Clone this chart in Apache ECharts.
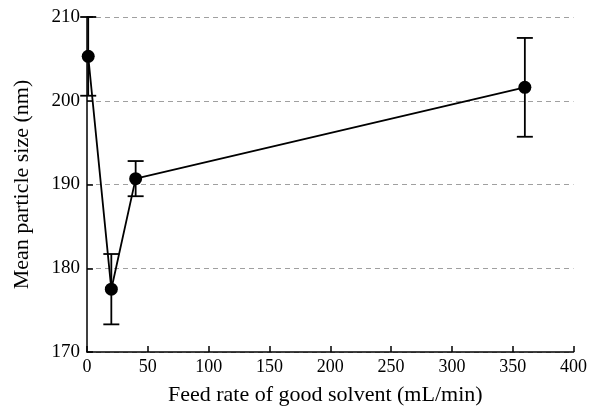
<!DOCTYPE html>
<html>
<head>
<meta charset="utf-8">
<script src="https://cdn.jsdelivr.net/npm/echarts@6/dist/echarts.min.js"></script>
<style>html,body{margin:0;padding:0;background:#fff}#c{width:590px;height:411px}</style>
</head>
<body>
<div id="c"></div>
<script>
var feedRate = [1, 20, 40, 360];
var meanSize = [205.3, 177.5, 190.7, 201.6];
var errSize = [4.7, 4.2, 2.1, 5.9];
var xTicks = [0, 50, 100, 150, 200, 250, 300, 350, 400];
var yTicks = [170, 180, 190, 200, 210];

var chart = echarts.init(document.getElementById('c'));
var pts = feedRate.map(function (x, i) { return [x, meanSize[i]]; });
var errData = feedRate.map(function (x, i) { return [x, meanSize[i] - errSize[i], meanSize[i] + errSize[i]]; });
var font = 'Liberation Serif';
chart.setOption({
  animation: false,
  grid: { left: 87, right: 11, top: 17, bottom: 57, containLabel: false },
  xAxis: {
    type: 'value', min: xTicks[0], max: xTicks[xTicks.length - 1], interval: xTicks[1] - xTicks[0],
    name: 'Feed rate of good solvent (mL/min)', nameLocation: 'middle', nameGap: 32,
    nameTextStyle: { fontFamily: font, fontSize: 22, color: '#000', padding: [0, 10, 0, 0] },
    axisLine: { show: true, lineStyle: { color: '#000', width: 1.5 } },
    axisTick: { show: true, inside: true, length: 6, lineStyle: { color: '#000', width: 1.5 } },
    axisLabel: { fontFamily: font, fontSize: 18, color: '#000', margin: 6 },
    splitLine: { show: false }
  },
  yAxis: {
    type: 'value', min: yTicks[0], max: yTicks[yTicks.length - 1], interval: yTicks[1] - yTicks[0],
    name: 'Mean particle size (nm)', nameLocation: 'middle', nameGap: 54,
    nameTextStyle: { fontFamily: font, fontSize: 22, color: '#000' },
    axisLine: { show: true, lineStyle: { color: '#000', width: 1.5 } },
    axisTick: { show: true, inside: true, length: 6, lineStyle: { color: '#000', width: 1.5 } },
    axisLabel: { fontFamily: font, fontSize: 19, color: '#000', margin: 7 },
    splitLine: { show: true, lineStyle: { color: '#a0a0a0', type: [5, 4], width: 1 } }
  },
  series: [
    {
      type: 'custom',
      data: errData,
      z: 3,
      clip: false,
      renderItem: function (params, api) {
        var x = api.value(0);
        var lo = api.coord([x, api.value(1)]);
        var hi = api.coord([x, api.value(2)]);
        var w = 8;
        var st = { stroke: '#000', lineWidth: 1.8 };
        return {
          type: 'group',
          children: [
            { type: 'line', shape: { x1: lo[0], y1: lo[1], x2: hi[0], y2: hi[1] }, style: st },
            { type: 'line', shape: { x1: lo[0] - w, y1: lo[1], x2: lo[0] + w, y2: lo[1] }, style: st },
            { type: 'line', shape: { x1: hi[0] - w, y1: hi[1], x2: hi[0] + w, y2: hi[1] }, style: st }
          ]
        };
      }
    },
    {
      type: 'line',
      data: pts,
      z: 4,
      symbol: 'circle',
      symbolSize: 13,
      lineStyle: { color: '#000', width: 1.8 },
      itemStyle: { color: '#000' }
    }
  ]
});
</script>
</body>
</html>
